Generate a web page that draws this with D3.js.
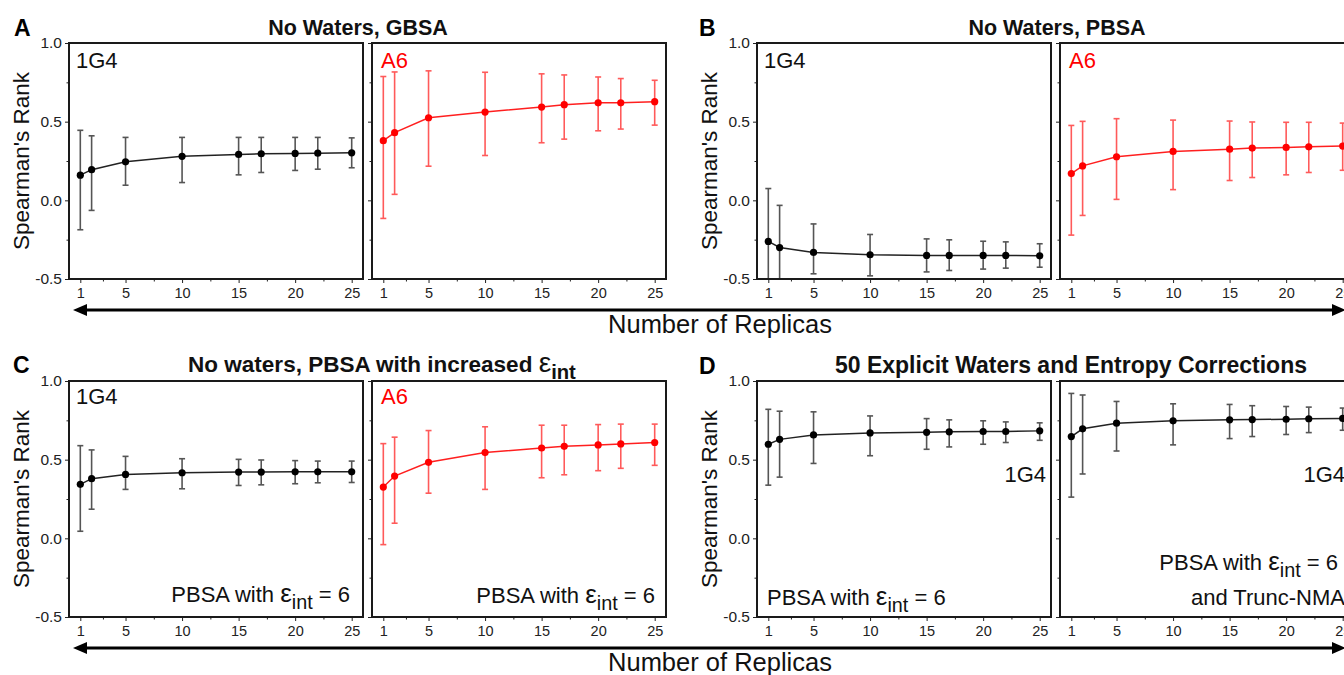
<!DOCTYPE html>
<html>
<head>
<meta charset="utf-8">
<script src="https://cdn.jsdelivr.net/npm/d3@7"></script>
<style>
  body { margin: 0; background: #fff; }
  svg { display: block; font-family: "Liberation Sans", Arial, sans-serif; }
</style>
</head>
<body>
<div id="chart"></div>
<script>
// values
const replicas = [1, 2, 5, 10, 15, 17, 20, 22, 25];
const xTicks = [1, 5, 10, 15, 20, 25];
const xMinorTicks = [3, 7.5, 12.5, 17.5, 22.5];
const yTicks = [-0.5, 0, 0.5, 1];
const yMinorTicks = [-0.25, 0.25, 0.75];

const gbsa1G4Mean = [0.16, 0.195, 0.245, 0.28, 0.292, 0.296, 0.298, 0.3, 0.302];
const gbsa1G4Low = [-0.187, -0.064, 0.096, 0.113, 0.162, 0.177, 0.19, 0.198, 0.207];
const gbsa1G4High = [0.445, 0.41, 0.4, 0.4, 0.4, 0.4, 0.4, 0.4, 0.397];

const gbsaA6Mean = [0.379, 0.43, 0.525, 0.561, 0.593, 0.608, 0.62, 0.62, 0.627];
const gbsaA6Low = [-0.115, 0.038, 0.217, 0.285, 0.366, 0.389, 0.442, 0.453, 0.478];
const gbsaA6High = [0.787, 0.816, 0.823, 0.814, 0.804, 0.797, 0.784, 0.774, 0.763];

const pbsa1G4Mean = [-0.261, -0.3, -0.331, -0.346, -0.35, -0.35, -0.35, -0.35, -0.353];
const pbsa1G4Low = [-0.6, -0.57, -0.467, -0.48, -0.455, -0.446, -0.437, -0.431, -0.425];
const pbsa1G4High = [0.075, -0.032, -0.15, -0.217, -0.245, -0.251, -0.26, -0.264, -0.276];

const pbsaA6Mean = [0.17, 0.219, 0.277, 0.311, 0.325, 0.332, 0.336, 0.34, 0.345];
const pbsaA6Low = [-0.221, -0.096, 0.006, 0.068, 0.126, 0.145, 0.162, 0.177, 0.191];
const pbsaA6High = [0.476, 0.502, 0.519, 0.51, 0.504, 0.498, 0.496, 0.496, 0.491];

const eps1G4Mean = [0.343, 0.379, 0.406, 0.417, 0.421, 0.421, 0.423, 0.423, 0.423];
const eps1G4Low = [0.045, 0.185, 0.311, 0.315, 0.336, 0.34, 0.347, 0.353, 0.355];
const eps1G4High = [0.589, 0.562, 0.521, 0.506, 0.502, 0.498, 0.494, 0.491, 0.491];

const epsA6Mean = [0.326, 0.396, 0.483, 0.545, 0.574, 0.585, 0.594, 0.6, 0.609];
const epsA6Low = [-0.04, 0.096, 0.287, 0.311, 0.385, 0.404, 0.43, 0.445, 0.464];
const epsA6High = [0.602, 0.643, 0.685, 0.709, 0.719, 0.719, 0.723, 0.726, 0.726];

const waters1G4Mean = [0.598, 0.629, 0.657, 0.67, 0.674, 0.677, 0.679, 0.679, 0.683];
const waters1G4Low = [0.338, 0.389, 0.476, 0.525, 0.566, 0.581, 0.598, 0.609, 0.623];
const waters1G4High = [0.82, 0.808, 0.804, 0.778, 0.761, 0.753, 0.747, 0.74, 0.734];

const nma1G4Mean = [0.647, 0.696, 0.732, 0.747, 0.753, 0.755, 0.757, 0.76, 0.762];
const nma1G4Low = [0.262, 0.409, 0.555, 0.594, 0.634, 0.647, 0.66, 0.672, 0.687];
const nma1G4High = [0.921, 0.911, 0.87, 0.855, 0.851, 0.843, 0.838, 0.834, 0.828];

const BLACK = { line: "#222", point: "#000", err: "#555" };
const RED = { line: "#ff1f1f", point: "#ff0000", err: "#ff5a5a" };

const epsText = (tail) => [
  { t: "PBSA with " },
  { t: "ε", size: 26 },
  { t: "int", sub: true },
  { t: tail },
];

class SubPlot {
  constructor({ svg, id, left, top, mean, low, high, color, yLabels, labels }) {
    this.svg = svg;
    this.id = id;
    this.left = left;
    this.top = top;
    this.mean = mean;
    this.low = low;
    this.high = high;
    this.color = color;
    this.yLabels = yLabels;
    this.labels = labels;
    this.init();
  }

  init() {
    this.width = 294;
    this.height = 236;
    this.capW = 3;
    this.r = 3.6;

    this.x = d3
      .scaleLinear()
      .domain([0, 26])
      .range([this.left, this.left + this.width]);
    this.y = d3
      .scaleLinear()
      .domain([-0.5, 1])
      .range([this.top + this.height, this.top]);

    this.data = replicas.map((d, i) => ({
      n: d,
      v: this.mean[i],
      lo: this.low[i],
      hi: this.high[i],
    }));

    this.g = this.svg.append("g").attr("class", "subplot");
    this.g
      .append("clipPath")
      .attr("id", `clip-${this.id}`)
      .append("rect")
      .attr("x", this.left)
      .attr("y", this.top)
      .attr("width", this.width)
      .attr("height", this.height);

    this.renderAxes();
    this.renderSeries();
    this.renderFrame();
    this.renderLabels();
  }

  renderAxes() {
    const bottom = this.top + this.height;
    this.g
      .append("g")
      .attr("transform", `translate(0,${bottom})`)
      .call(
        d3.axisBottom(this.x).tickValues(xTicks).tickSize(4).tickPadding(5)
      )
      .call((g) => g.select(".domain").remove())
      .attr("font-size", 14.5)
      .attr("font-family", null)
      .attr("color", "#222");
    this.g
      .append("g")
      .attr("transform", `translate(0,${bottom})`)
      .call(
        d3.axisBottom(this.x).tickValues(xMinorTicks).tickSize(2.5).tickFormat("")
      )
      .call((g) => g.select(".domain").remove())
      .attr("color", "#222");

    this.g
      .append("g")
      .attr("transform", `translate(${this.left},0)`)
      .call(
        d3
          .axisLeft(this.y)
          .tickValues(yTicks)
          .tickSize(4)
          .tickPadding(3)
          .tickFormat(this.yLabels ? (d) => d.toFixed(1) : "")
      )
      .call((g) => g.select(".domain").remove())
      .attr("font-size", 15.5)
      .attr("font-family", null)
      .attr("color", "#222");
    this.g
      .append("g")
      .attr("transform", `translate(${this.left},0)`)
      .call(
        d3.axisLeft(this.y).tickValues(yMinorTicks).tickSize(2.5).tickFormat("")
      )
      .call((g) => g.select(".domain").remove())
      .attr("color", "#222");
  }

  renderSeries() {
    const plot = this.g.append("g").attr("clip-path", `url(#clip-${this.id})`);

    const bars = plot
      .append("g")
      .attr("stroke", this.color.err)
      .attr("stroke-width", 1.6)
      .selectAll("g")
      .data(this.data)
      .join("g");
    bars
      .append("line")
      .attr("x1", (d) => this.x(d.n))
      .attr("x2", (d) => this.x(d.n))
      .attr("y1", (d) => this.y(d.lo))
      .attr("y2", (d) => this.y(d.hi));
    bars
      .selectAll(".cap")
      .data((d) => [
        [d.n, d.lo],
        [d.n, d.hi],
      ])
      .join("line")
      .attr("class", "cap")
      .attr("x1", (d) => this.x(d[0]) - this.capW)
      .attr("x2", (d) => this.x(d[0]) + this.capW)
      .attr("y1", (d) => this.y(d[1]))
      .attr("y2", (d) => this.y(d[1]));

    const line = d3
      .line()
      .x((d) => this.x(d.n))
      .y((d) => this.y(d.v));
    plot
      .append("path")
      .datum(this.data)
      .attr("fill", "none")
      .attr("stroke", this.color.line)
      .attr("stroke-width", 1.5)
      .attr("d", line);

    plot
      .append("g")
      .selectAll("circle")
      .data(this.data)
      .join("circle")
      .attr("cx", (d) => this.x(d.n))
      .attr("cy", (d) => this.y(d.v))
      .attr("r", this.r)
      .attr("fill", this.color.point);
  }

  renderFrame() {
    this.g
      .append("rect")
      .attr("x", this.left)
      .attr("y", this.top)
      .attr("width", this.width)
      .attr("height", this.height)
      .attr("fill", "none")
      .attr("stroke", "#1a1a1a")
      .attr("stroke-width", 2);
  }

  renderLabels() {
    this.labels.forEach((l) => {
      richText(this.g, {
        x: this.left + l.dx,
        y: this.top + l.dy,
        anchor: l.anchor,
        size: 22,
        weight: "normal",
        fill: l.fill || "#111",
        parts: l.parts,
      });
    });
  }
}

function richText(parent, { x, y, anchor, size, weight, fill, parts }) {
  const text = parent
    .append("text")
    .attr("x", x)
    .attr("y", y)
    .attr("text-anchor", anchor)
    .attr("font-size", size)
    .attr("font-weight", weight)
    .attr("fill", fill);
  let shifted = 0;
  parts.forEach((p) => {
    const target = p.sub ? Math.round(size * 0.32) : 0;
    text
      .append("tspan")
      .attr("dy", target - shifted)
      .attr("font-size", p.sub ? size * 0.9 : p.size || null)
      .attr("font-weight", p.size ? "normal" : null)
      .text(p.t);
    shifted = target;
  });
  return text;
}

const width = 1344;
const height = 675;

const svg = d3
  .select("#chart")
  .append("svg")
  .attr("width", width)
  .attr("height", height)
  .attr("viewBox", [0, 0, width, height]);

const colLeft = [69, 757];
const rowTop = [43, 381];
const subStep = 303;

const plots = [
  { row: 0, col: 0, sub: 0, mean: gbsa1G4Mean, low: gbsa1G4Low, high: gbsa1G4High, color: BLACK,
    labels: [{ parts: [{ t: "1G4" }], dx: 7, dy: 25, anchor: "start" }] },
  { row: 0, col: 0, sub: 1, mean: gbsaA6Mean, low: gbsaA6Low, high: gbsaA6High, color: RED,
    labels: [{ parts: [{ t: "A6" }], dx: 9, dy: 25, anchor: "start", fill: "#ff0000" }] },
  { row: 0, col: 1, sub: 0, mean: pbsa1G4Mean, low: pbsa1G4Low, high: pbsa1G4High, color: BLACK,
    labels: [{ parts: [{ t: "1G4" }], dx: 7, dy: 25, anchor: "start" }] },
  { row: 0, col: 1, sub: 1, mean: pbsaA6Mean, low: pbsaA6Low, high: pbsaA6High, color: RED,
    labels: [{ parts: [{ t: "A6" }], dx: 9, dy: 25, anchor: "start", fill: "#ff0000" }] },
  { row: 1, col: 0, sub: 0, mean: eps1G4Mean, low: eps1G4Low, high: eps1G4High, color: BLACK,
    labels: [
      { parts: [{ t: "1G4" }], dx: 7, dy: 23, anchor: "start" },
      { parts: epsText("  = 6"), dx: 281, dy: 221, anchor: "end" },
    ] },
  { row: 1, col: 0, sub: 1, mean: epsA6Mean, low: epsA6Low, high: epsA6High, color: RED,
    labels: [
      { parts: [{ t: "A6" }], dx: 9, dy: 23, anchor: "start", fill: "#ff0000" },
      { parts: epsText("  = 6"), dx: 283, dy: 222, anchor: "end" },
    ] },
  { row: 1, col: 1, sub: 0, mean: waters1G4Mean, low: waters1G4Low, high: waters1G4High, color: BLACK,
    labels: [
      { parts: [{ t: "1G4" }], dx: 289, dy: 101, anchor: "end" },
      { parts: epsText("  = 6"), dx: 10, dy: 224, anchor: "start" },
    ] },
  { row: 1, col: 1, sub: 1, mean: nma1G4Mean, low: nma1G4Low, high: nma1G4High, color: BLACK,
    labels: [
      { parts: [{ t: "1G4" }], dx: 285, dy: 101, anchor: "end" },
      { parts: epsText("  = 6"), dx: 278, dy: 189, anchor: "end" },
      { parts: [{ t: "and Trunc-NMA" }], dx: 285, dy: 224, anchor: "end" },
    ] },
];

plots.forEach(
  (p, i) =>
    new SubPlot({
      svg,
      id: i,
      left: colLeft[p.col] + p.sub * subStep,
      top: rowTop[p.row],
      mean: p.mean,
      low: p.low,
      high: p.high,
      color: p.color,
      yLabels: p.sub === 0,
      labels: p.labels,
    })
);

// panel letters and titles
const panelTitles = [
  { letter: "A", x: 14, y: 36, cx: 358, ty: 35, size: 21.5, parts: [{ t: "No Waters, GBSA" }] },
  { letter: "B", x: 699, y: 36, cx: 1057, ty: 35, size: 21.5, parts: [{ t: "No Waters, PBSA" }] },
  { letter: "C", x: 13, y: 373, cx: 382, ty: 372, size: 22.5,
    parts: [{ t: "No waters, PBSA with increased " }, { t: "ε", size: 28 }, { t: "int", sub: true }] },
  { letter: "D", x: 699, y: 374, cx: 1071, ty: 373, size: 23,
    parts: [{ t: "50 Explicit Waters and Entropy Corrections" }] },
];

panelTitles.forEach((p) => {
  svg
    .append("text")
    .attr("x", p.x)
    .attr("y", p.y)
    .attr("font-size", 23)
    .attr("font-weight", "bold")
    .attr("fill", "#000")
    .text(p.letter);
  richText(svg, {
    x: p.cx,
    y: p.ty,
    anchor: "middle",
    size: p.size,
    weight: "bold",
    fill: "#111",
    parts: p.parts,
  });
});

// y titles
rowTop.forEach((top) =>
  colLeft.forEach((left) =>
    svg
      .append("text")
      .attr("text-anchor", "middle")
      .attr("font-size", 22.5)
      .attr("fill", "#111")
      .attr("transform", `translate(${left - 40},${top + 118})rotate(-90)`)
      .text("Spearman's Rank")
  )
);

// replicas arrows
[310, 648].forEach((y) => {
  const g = svg.append("g").attr("fill", "#000");
  g.append("line")
    .attr("x1", 84)
    .attr("x2", 1334)
    .attr("y1", y)
    .attr("y2", y)
    .attr("stroke", "#000")
    .attr("stroke-width", 3);
  g.append("path").attr("d", `M73,${y}L87,${y - 6}L87,${y + 6}Z`);
  g.append("path").attr("d", `M1346,${y}L1332,${y - 6}L1332,${y + 6}Z`);
  svg
    .append("text")
    .attr("x", 720)
    .attr("y", y + 23)
    .attr("text-anchor", "middle")
    .attr("font-size", 25.5)
    .attr("fill", "#111")
    .text("Number of Replicas");
});
</script>
</body>
</html>
